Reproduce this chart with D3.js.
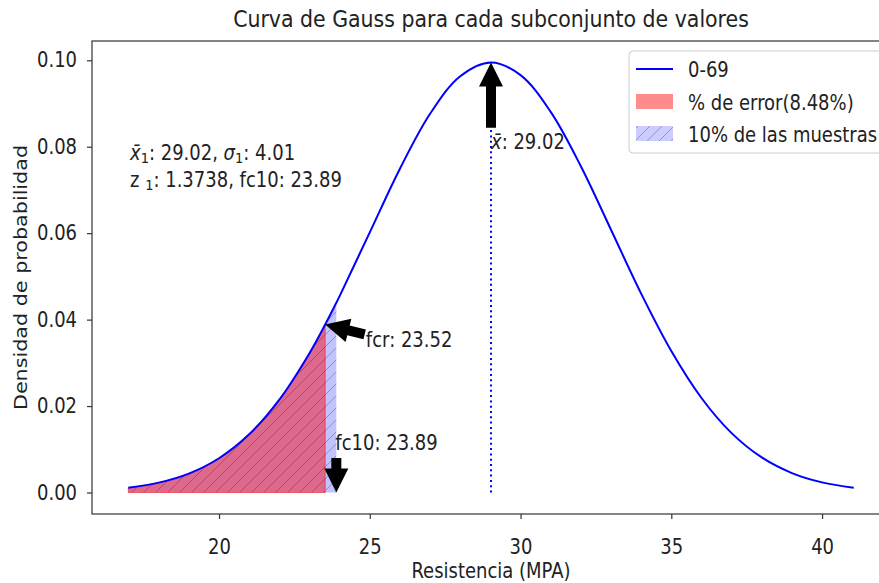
<!DOCTYPE html>
<html>
<head>
<meta charset="utf-8">
<script src="https://d3js.org/d3.v7.min.js"></script>
<style>
  body { margin: 0; background: #fff; }
  text { font-family: "DejaVu Sans", sans-serif; fill: #222; }
</style>
</head>
<body>
<script>
// curve values (Resistencia MPA -> densidad)
var xs = [16.99, 18, 19, 20, 21, 22, 23, 23.52, 23.89, 24, 25, 26, 27, 28, 29.02, 30, 31, 32, 33, 34, 35, 36, 37, 38, 39, 40, 41.05];
var ys = [0.00110, 0.00228, 0.00438, 0.00793, 0.01346, 0.02149, 0.03224, 0.03885, 0.04390, 0.04544, 0.06019, 0.07492,
          0.08763, 0.09632, 0.09949, 0.09656, 0.08807, 0.07549, 0.06080, 0.04601, 0.03272, 0.02187, 0.01374, 0.00811,
          0.00450, 0.00234, 0.00110];

var media = 29.02;
var fcr = 23.52;
var fc10 = 23.89;

var xTicks = [20, 25, 30, 35, 40];
var yTicks = [0.00, 0.02, 0.04, 0.06, 0.08, 0.10];

var legendLabels = ["0-69", "% de error(8.48%)", "10% de las muestras"];

var W = 879, H = 583;
var margin = {left: 92, top: 41, right: -11, bottom: 69};
var SY = 1.15; // the picture's text is a bit taller than wide

var svg = d3.select("body").append("svg")
    .attr("width", W)
    .attr("height", H);

// hatch pattern for the 10% area
var defs = svg.append("defs");
var pat = defs.append("pattern").attr("id", "hatch")
    .attr("patternUnits", "userSpaceOnUse")
    .attr("width", 12).attr("height", 12);
pat.append("path").attr("d", "M-1,1 l2,-2 M0,12 l12,-12 M11,13 l2,-2")
    .attr("stroke", "rgba(0,0,255,0.3)").attr("stroke-width", 1);

// matplotlib style 5% margins
var xExt = d3.extent(xs), yExt = [0, d3.max(ys)];
var xPad = (xExt[1] - xExt[0]) * 0.05, yPad = (yExt[1] - yExt[0]) * 0.05;

var x = d3.scaleLinear()
    .domain([xExt[0] - xPad, xExt[1] + xPad])
    .range([margin.left, W - margin.right]);
var y = d3.scaleLinear()
    .domain([yExt[0] - yPad, yExt[1] + yPad])
    .range([H - margin.bottom, margin.top]);

var pts = xs.map(function(d, i) { return [d, ys[i]]; });

var area = d3.area()
    .x(function(d) { return x(d[0]); })
    .y0(y(0))
    .y1(function(d) { return y(d[1]); })
    .curve(d3.curveCatmullRom);

var line = d3.line()
    .x(function(d) { return x(d[0]); })
    .y(function(d) { return y(d[1]); })
    .curve(d3.curveCatmullRom);

var errPts = pts.filter(function(d) { return d[0] <= fcr; });
var tenPts = pts.filter(function(d) { return d[0] <= fc10; });

// 10% area (blue) up to fc10
svg.append("path").attr("d", area(tenPts))
    .attr("fill", "rgba(0,0,255,0.24)");
// error area (red) up to fcr
svg.append("path").attr("d", area(errPts))
    .attr("fill", "rgba(255,0,0,0.45)")
    .attr("stroke", "rgba(255,0,0,0.5)").attr("stroke-width", 1);
// hatch on top
svg.append("path").attr("d", area(tenPts))
    .attr("fill", "url(#hatch)");

// dotted line at the mean
svg.append("line")
    .attr("x1", x(media)).attr("x2", x(media))
    .attr("y1", y(0)).attr("y2", y(0.0995))
    .attr("stroke", "blue").attr("stroke-width", 2)
    .attr("stroke-dasharray", "2,3.3");

// gauss curve
svg.append("path").attr("d", line(pts))
    .attr("fill", "none").attr("stroke", "blue").attr("stroke-width", 2);

// frame
svg.append("rect")
    .attr("x", margin.left).attr("y", margin.top)
    .attr("width", W - margin.right - margin.left)
    .attr("height", H - margin.bottom - margin.top)
    .attr("fill", "none").attr("stroke", "#333").attr("stroke-width", 1.2);

// axes
var xAxis = svg.append("g")
    .attr("transform", "translate(0," + (H - margin.bottom) + ")")
    .call(d3.axisBottom(x).tickValues(xTicks).tickSize(5));
var yAxis = svg.append("g")
    .attr("transform", "translate(" + margin.left + ",0)")
    .call(d3.axisLeft(y).tickValues(yTicks).tickFormat(d3.format(".2f")).tickSize(5).tickPadding(10));
[xAxis, yAxis].forEach(function(a) {
    a.select(".domain").remove();
    a.selectAll("line").attr("stroke", "#333").attr("stroke-width", 1.2);
    a.selectAll("text").style("font-size", "18px").attr("fill", "#222")
        .style("font-family", "DejaVu Sans");
});
xAxis.selectAll("text").attr("dy", null).attr("y", 40 / SY)
    .attr("transform", "scale(1," + SY + ")");
yAxis.selectAll("text").attr("transform", "scale(1," + SY + ")");

// text helper: stretched vertically like the picture
function label(px, py, size, rot) {
    var t = "translate(" + px + "," + py + ")";
    t += rot ? " rotate(-90) scale(" + SY + ",1)" : " scale(1," + SY + ")";
    return svg.append("text").attr("transform", t).style("font-size", size + "px");
}

// titles
label((margin.left + 890) / 2, 27, 20.5).attr("text-anchor", "middle")
    .text("Curva de Gauss para cada subconjunto de valores");
label((margin.left + 890) / 2, 578, 18).attr("text-anchor", "middle")
    .text("Resistencia (MPA)");
label(27, (margin.top + H - margin.bottom) / 2, 18, true).attr("text-anchor", "middle")
    .text("Densidad de probabilidad");

// arrows (annotate-like)
var arrows = [
    {tip: [media, 0.0995], tail: [media, 0.0844]},
    {tip: [fcr, 0.03885], tail: [24.83, 0.0366]},
    {tip: [fc10, 0.0], tail: [fc10, 0.0080]}
];
function arrowPath(a) {
    var x0 = x(a.tail[0]), y0 = y(a.tail[1]), x1 = x(a.tip[0]), y1 = y(a.tip[1]);
    var dx = x1 - x0, dy = y1 - y0, len = Math.sqrt(dx * dx + dy * dy);
    var ux = dx / len, uy = dy / len, nx = -uy, ny = ux;
    var sw = 5, hw = 12, hl = Math.min(24, len * 0.7);
    var bx = x1 - ux * hl, by = y1 - uy * hl;
    var p = [
        [x0 + nx * sw, y0 + ny * sw],
        [bx + nx * sw, by + ny * sw],
        [bx + nx * hw, by + ny * hw],
        [x1, y1],
        [bx - nx * hw, by - ny * hw],
        [bx - nx * sw, by - ny * sw],
        [x0 - nx * sw, y0 - ny * sw]
    ];
    return "M" + p.join("L") + "Z";
}
svg.selectAll(".arrow").data(arrows).enter().append("path")
    .attr("class", "arrow")
    .attr("d", arrowPath)
    .attr("fill", "black");

// annotation texts
var t1 = label(x(media), y(0.0794), 18);
t1.append("tspan").style("font-style", "italic").text("x\u0304");
t1.append("tspan").text(": 29.02");

label(x(24.87), y(0.0337), 18).text("fcr: 23.52");
label(x(fc10) - 1, y(0.0099), 18).text("fc10: 23.89");

var info = label(130, 160, 18);
info.append("tspan").style("font-style", "italic").text("x\u0304");
info.append("tspan").attr("dy", 3).style("font-size", "13px").text("1");
info.append("tspan").attr("dy", -3).text(": 29.02, ");
info.append("tspan").style("font-style", "italic").text("\u03c3");
info.append("tspan").attr("dy", 3).style("font-size", "13px").text("1");
info.append("tspan").attr("dy", -3).text(": 4.01");

var info2 = label(130, 187, 18);
info2.append("tspan").text("z ");
info2.append("tspan").attr("dy", 3).style("font-size", "13px").text("1");
info2.append("tspan").attr("dy", -3).text(": 1.3738, fc10: 23.89");

// legend
var lg = svg.append("g").attr("transform", "translate(629,51)");
lg.append("rect").attr("width", 262).attr("height", 102).attr("rx", 4)
    .attr("fill", "rgba(255,255,255,0.8)").attr("stroke", "#ccc").attr("stroke-width", 1);
lg.append("line").attr("x1", 7).attr("x2", 44).attr("y1", 18).attr("y2", 18)
    .attr("stroke", "blue").attr("stroke-width", 2);
lg.append("rect").attr("x", 7).attr("y", 43).attr("width", 37).attr("height", 15)
    .attr("fill", "rgba(255,0,0,0.45)");
lg.append("rect").attr("x", 7).attr("y", 75).attr("width", 37).attr("height", 15)
    .attr("fill", "rgba(0,0,255,0.2)");
lg.append("rect").attr("x", 7).attr("y", 75).attr("width", 37).attr("height", 15)
    .attr("fill", "url(#hatch)");
lg.selectAll(".lgtxt").data(legendLabels).enter().append("text")
    .attr("class", "lgtxt")
    .attr("transform", function(d, i) { return "translate(59," + (26 + i * 32.5) + ") scale(1," + SY + ")"; })
    .style("font-size", "18px")
    .text(function(d) { return d; });
</script>
</body>
</html>
